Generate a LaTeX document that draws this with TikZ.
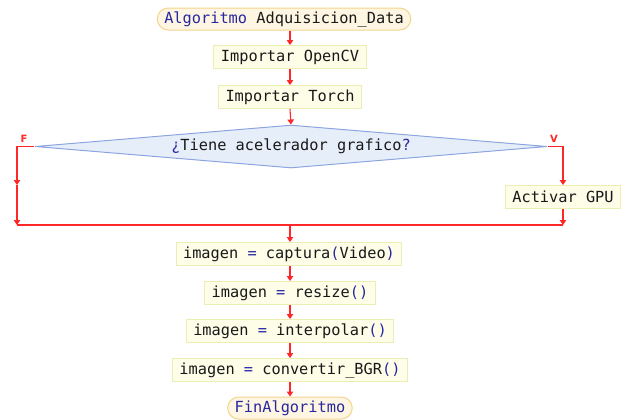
\documentclass[tikz,border=0pt]{standalone}
\usepackage{fontspec}
\setmonofont{DejaVu Sans Mono}
\setsansfont{DejaVu Sans}
\usetikzlibrary{shapes.geometric, arrows.meta, positioning}
\definecolor{flujo}{RGB}{255, 40, 40}
\definecolor{texto}{RGB}{25, 25, 25}
\definecolor{clave}{RGB}{40, 40, 160}
\definecolor{cajafondo}{RGB}{253, 253, 232}
\definecolor{cajaborde}{RGB}{232, 238, 180}
\definecolor{termfondo}{RGB}{254, 246, 226}
\definecolor{termborde}{RGB}{242, 212, 140}
\definecolor{decfondo}{RGB}{230, 238, 250}
\definecolor{decborde}{RGB}{140, 165, 224}

\tikzset{
  proceso/.style={draw=cajaborde, fill=cajafondo, line width=1bp, text=texto,
    font=\ttfamily\fontsize{15.3bp}{18bp}\selectfont,
    inner xsep=7bp, inner ysep=0pt, minimum height=23bp},
  terminal/.style={proceso, draw=termborde, fill=termfondo, rounded corners=11bp, minimum height=22bp},
  decision/.style={diamond, draw=decborde, fill=decfondo, line width=1bp, text=texto,
    font=\ttfamily\fontsize{15.3bp}{18bp}\selectfont,
    aspect=12, inner sep=0pt, minimum width=512bp, minimum height=43bp},
  flecha/.style={->, draw=flujo},
  etiqueta/.style={text=flujo, font=\sffamily\bfseries\fontsize{10bp}{11bp}\selectfont}
}
\newcommand{\kw}[1]{\textcolor{clave}{#1}}

\begin{document}
\begin{tikzpicture}[x=1bp, y=-1bp, >={Triangle[width=6.5bp, length=5bp]}, line width=1.1bp]
    \useasboundingbox (0,0) rectangle (626,419);

    % bloques del algoritmo
    \node[terminal] (inicio) at (284, 19) {\kw{Algoritmo} Adquisicion\_Data};
    \node[proceso] (opencv) at (290, 57) {Importar OpenCV};
    \node[proceso] (torch) at (290, 97) {Importar Torch};
    \node[decision] (pregunta) at (291, 146.5) {\kw{¿}Tiene acelerador grafico\kw{?}};
    \node[proceso] (gpu) at (563, 197) {Activar GPU};
    \node[proceso] (captura) at (289, 254) {imagen \kw{=} captura\kw{(}Video\kw{)}};
    \node[proceso] (resize) at (290, 293) {imagen \kw{=} resize\kw{()}};
    \node[proceso] (interp) at (290, 331) {imagen \kw{=} interpolar\kw{()}};
    \node[proceso] (bgr) at (290, 370) {imagen \kw{=} convertir\_BGR\kw{()}};
    \node[terminal] (fin) at (290, 408) {\kw{FinAlgoritmo}};

    % puntos de las ramas
    \coordinate (fIzq) at (17, 146.5);
    \coordinate (fMedio) at (17, 185);
    \coordinate (uneIzq) at (17, 225);
    \coordinate (vDer) at (563, 146.5);
    \coordinate (uneDer) at (563, 225);
    \coordinate (une) at (290, 225);

    \node[etiqueta] (lblF) at (24, 139) {F};
    \node[etiqueta] (lblV) at (554, 139) {V};

    % flujo principal
    \draw[flecha] (inicio.south -| opencv.north) -- (opencv.north);
    \draw[flecha] (opencv.south) -- (torch.north);
    \draw[flecha] (torch.south) -- (pregunta.north);

    % rama falsa
    \draw[flecha] (pregunta.west) -- (fIzq) -- (fMedio);
    \draw[flecha] (fMedio) -- (uneIzq);

    % rama verdadera
    \draw[flecha] (pregunta.east) -- (vDer) -- (gpu.north);
    \draw[flecha] (gpu.south) -- (uneDer);

    \draw[flujo] (uneIzq) -- (uneDer);
    \draw[flecha] (une) -- (captura.north -| une);
    \draw[flecha] (captura.south -| resize.north) -- (resize.north);
    \draw[flecha] (resize.south) -- (interp.north);
    \draw[flecha] (interp.south) -- (bgr.north);
    \draw[flecha] (bgr.south) -- (fin.north);

\end{tikzpicture}
\end{document}
